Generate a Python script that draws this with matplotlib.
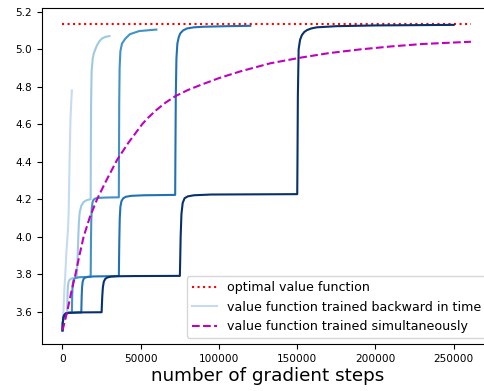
import matplotlib
matplotlib.use("Agg")
import matplotlib.pyplot as plt

# ---------------- data ----------------
optimal_value = 5.135
optimal_x = [0, 261000]

# backward-in-time training curves (lightest -> darkest)
bw1_x = [0, 200, 600, 1200, 1800, 2500, 3600, 4000, 4500, 5100, 5600, 6000]
bw1_y = [3.50, 3.56, 3.60, 3.72, 3.80, 3.92, 4.05, 4.15, 4.40, 4.63, 4.72, 4.78]

bw2_x = [0, 200, 500, 1000, 2000, 3000,
         3050, 3150, 3300, 3550, 3900, 4500, 5500, 7000, 9000,
         9300, 9700, 10100, 10500, 11000, 12000, 13500, 15500, 18000,
         18080, 18250, 18600, 19300, 20000, 21000, 22100, 23500, 25300, 27500, 30000]
bw2_y = [3.50, 3.54, 3.565, 3.58, 3.589, 3.592,
         3.62, 3.67, 3.71, 3.74, 3.76, 3.77, 3.776, 3.779, 3.78,
         3.82, 3.90, 4.00, 4.08, 4.13, 4.165, 4.185, 4.195, 4.20,
         4.40, 4.70, 4.88, 4.95, 4.978, 5.00, 5.022, 5.042, 5.058, 5.066, 5.07]

bw3_x = [0, 200, 500, 1000, 2000, 3500, 6000,
         6060, 6180, 6350, 6600, 7000, 7600, 8600, 11000, 18000,
         18070, 18200, 18400, 18700, 19100, 19700, 20700, 23000, 28000, 36000,
         36080, 36250, 36500, 37000, 38000, 40000, 43000, 49000, 60000]
bw3_y = [3.50, 3.54, 3.565, 3.58, 3.59, 3.593, 3.595,
         3.62, 3.68, 3.72, 3.75, 3.767, 3.776, 3.781, 3.784, 3.786,
         3.85, 3.98, 4.09, 4.15, 4.18, 4.195, 4.203, 4.207, 4.209, 4.21,
         4.40, 4.72, 4.90, 4.99, 5.03, 5.055, 5.08, 5.097, 5.105]

bw4_x = [0, 200, 500, 1000, 2000, 4000, 12000,
         12080, 12250, 12500, 12900, 13500, 14500, 16500, 20000, 36000,
         36100, 36300, 36600, 37000, 37700, 38800, 40500, 44000, 52000, 72000,
         72120, 72400, 72800, 73400, 74300, 75300, 77000, 79600, 84000, 90000, 105000, 120000]
bw4_y = [3.50, 3.54, 3.565, 3.58, 3.59, 3.594, 3.596,
         3.62, 3.68, 3.73, 3.76, 3.775, 3.782, 3.786, 3.788, 3.79,
         3.85, 3.98, 4.10, 4.16, 4.19, 4.205, 4.213, 4.218, 4.221, 4.223,
         4.40, 4.75, 4.95, 5.03, 5.065, 5.085, 5.10, 5.111, 5.117, 5.12, 5.123, 5.125]

bw5_x = [0, 200, 500, 1000, 2000, 4000, 10000, 25000,
         25100, 25400, 25800, 26400, 27300, 28800, 31000, 35000, 45000, 75000,
         75150, 75500, 76000, 76800, 78000, 80000, 84000, 95000, 150000,
         150150, 150400, 150900, 151800, 153000, 154500, 156200, 159000, 162600,
         175000, 200000, 250000]
bw5_y = [3.50, 3.54, 3.565, 3.58, 3.59, 3.594, 3.596, 3.597,
         3.62, 3.68, 3.73, 3.76, 3.775, 3.783, 3.787, 3.789, 3.79, 3.791,
         3.85, 4.00, 4.12, 4.18, 4.205, 4.215, 4.221, 4.225, 4.227,
         4.40, 4.75, 5.00, 5.05, 5.076, 5.092, 5.102, 5.111, 5.117,
         5.123, 5.127, 5.13]

backward_x = [bw1_x, bw2_x, bw3_x, bw4_x, bw5_x]
backward_y = [bw1_y, bw2_y, bw3_y, bw4_y, bw5_y]
backward_colors = ['#c6dbef', '#9ecae1', '#4292c6', '#2171b5', '#08306b']

# simultaneous training curve
sim_x = [0, 1500, 3000, 5500, 8300, 10800, 13500, 17500, 22100, 28000, 34900,
         42000, 50900, 55000, 60000, 66000, 72200, 80000, 88100, 100000,
         113700, 132800, 152000, 170000, 190000, 210000, 230000, 261000]
sim_y = [3.50, 3.55, 3.60, 3.70, 3.80, 3.90, 4.00, 4.105, 4.20, 4.30, 4.41,
         4.50, 4.60, 4.637, 4.676, 4.716, 4.75, 4.782, 4.809, 4.846,
         4.882, 4.925, 4.955, 4.979, 4.999, 5.015, 5.028, 5.04]

x_ticks = [0, 50000, 100000, 150000, 200000, 250000]
y_ticks = [3.6, 3.8, 4.0, 4.2, 4.4, 4.6, 4.8, 5.0, 5.2]

# ---------------- figure ----------------
W, H = 485, 391
fig = plt.figure(figsize=(W / 100, H / 100), dpi=100)
ax = fig.add_axes([42 / W, 1 - 344.3 / H, (493 - 42) / W, (344.3 - 8) / H])

ax.plot(optimal_x, [optimal_value, optimal_value], ':', color='red', lw=1.5,
        label='optimal value function')
for i, (xs, ys, c) in enumerate(zip(backward_x, backward_y, backward_colors)):
    ax.plot(xs, ys, '-', color=c, lw=1.5,
            label='value function trained backward in time' if i == 0 else None)
ax.plot(sim_x, sim_y, '--', color='m', lw=1.5,
        label='value function trained simultaneously')

ax.set_xlim(-13100, 275100)
ax.set_ylim(3.426, 5.22)
ax.set_xticks(x_ticks)
ax.set_xticklabels([str(t) for t in x_ticks])
ax.set_yticks(y_ticks)
ax.set_yticklabels([f'{t:.1f}' for t in y_ticks])
ax.tick_params(labelsize=7.6)
ax.set_xlabel('number of gradient steps', fontsize=13.2, labelpad=2)
ax.legend(loc='lower right', fontsize=9.1)

fig.savefig('out.png', dpi=100)
